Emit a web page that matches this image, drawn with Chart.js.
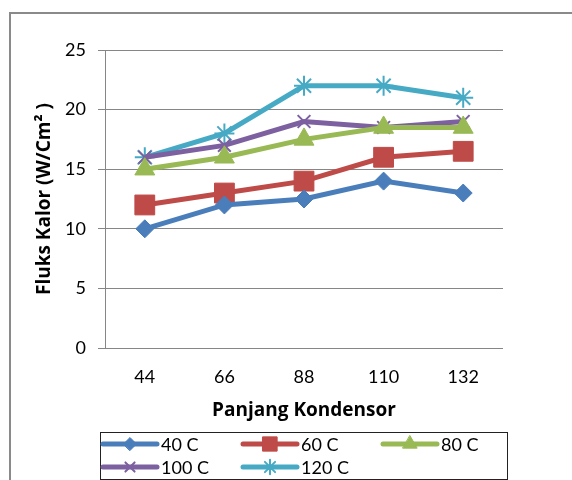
<!DOCTYPE html>
<html>
<head>
<meta charset="utf-8">
<script src="https://cdn.jsdelivr.net/npm/chart.js@4/dist/chart.umd.min.js"></script>
<style>
  html, body { margin: 0; padding: 0; background: #fff; }
  #wrap { width: 572px; height: 480px; }
</style>
</head>
<body>
<div id="wrap"><canvas id="c" width="572" height="480"></canvas></div>
<script>
// Panjang kondensor (x categories)
const categories = ['44', '66', '88', '110', '132'];

// Fluks kalor (W/Cm²) per temperature
const series40  = [10, 12, 12.5, 14, 13];
const series60  = [12, 13, 14, 16, 16.5];
const series80  = [15, 16, 17.5, 18.5, 18.5];
const series100 = [16, 17, 19, 18.5, 19];
const series120 = [16, 18, 22, 22, 21];

const seriesNames = ['40 C', '60 C', '80 C', '100 C', '120 C'];
const yTicks = [0, 5, 10, 15, 20, 25];

const FONT = 'Lato, "Open Sans", "Liberation Sans", sans-serif';
const TITLE_FONT = '"Open Sans", Lato, "Liberation Sans", sans-serif';
const GRID = '#868686';

const styles = [
  { color: '#4a7ebb', pointStyle: 'rectRot',  radius: 9,    bw: 1 },
  { color: '#be4b48', pointStyle: 'rect',     radius: 14,   bw: 1 },
  { color: '#98b954', pointStyle: 'triangle', radius: 11.5, bw: 1 },
  { color: '#7d60a0', pointStyle: 'crossRot', radius: 9,    bw: 2 },
  { color: '#46aac5', pointStyle: 'star',     radius: 10,   bw: 2 }
];
const values = [series40, series60, series80, series100, series120];

const datasets = values.map((v, i) => ({
  label: seriesNames[i],
  data: v,
  borderColor: styles[i].color,
  backgroundColor: styles[i].color,
  borderWidth: 5,
  pointStyle: styles[i].pointStyle,
  pointRadius: styles[i].radius,
  pointHoverRadius: styles[i].radius,
  pointBorderWidth: styles[i].bw,
  pointBackgroundColor: styles[i].color,
  pointBorderColor: styles[i].color,
  tension: 0,
  clip: false
}));

// Outer frame of the chart object
const framePlugin = {
  id: 'frame',
  beforeDraw(chart) {
    const ctx = chart.ctx;
    ctx.save();
    ctx.strokeStyle = '#8a8a8a';
    ctx.lineWidth = 2;
    ctx.beginPath();
    ctx.moveTo(10, chart.height + 2);
    ctx.lineTo(10, 13);
    ctx.lineTo(chart.width + 2, 13);
    ctx.stroke();
    ctx.restore();
  }
};

// Boxed legend laid out in three fixed columns
const boxLegendPlugin = {
  id: 'boxLegend',
  afterDraw(chart) {
    const ctx = chart.ctx;
    const box = { left: 100, top: 432, right: 507, bottom: 479 };
    ctx.save();
    ctx.strokeStyle = '#222';
    ctx.lineWidth = 1;
    ctx.strokeRect(box.left + 0.5, box.top + 0.5, box.right - box.left, box.bottom - box.top);
    const rows = [444, 467];
    chart.data.datasets.forEach((ds, i) => {
      const col = i % 3, row = Math.floor(i / 3);
      const x0 = 103 + col * 140, y = rows[row];
      ctx.strokeStyle = ds.borderColor;
      ctx.lineWidth = 5;
      ctx.lineCap = 'round';
      ctx.beginPath();
      ctx.moveTo(x0, y);
      ctx.lineTo(x0 + 54, y);
      ctx.stroke();
      ctx.fillStyle = ds.pointBackgroundColor;
      ctx.strokeStyle = ds.pointBorderColor;
      ctx.lineWidth = ds.pointBorderWidth;
      Chart.helpers.drawPoint(ctx, {
        pointStyle: ds.pointStyle,
        radius: ds.pointRadius * 0.72,
        rotation: 0,
        borderWidth: ds.pointBorderWidth
      }, x0 + 27, y);
      ctx.fillStyle = '#000';
      ctx.font = '18px ' + FONT;
      ctx.textBaseline = 'middle';
      ctx.textAlign = 'left';
      ctx.fillText(ds.label, x0 + 58, y + 1);
    });
    ctx.restore();
  }
};

new Chart(document.getElementById('c'), {
  type: 'line',
  data: { labels: categories, datasets },
  plugins: [framePlugin, boxLegendPlugin],
  options: {
    responsive: false,
    animation: false,
    events: [],
    layout: { padding: { left: 33, top: 50, right: 69, bottom: 55 } },
    plugins: {
      legend: { display: false },
      tooltip: { enabled: false }
    },
    scales: {
      x: {
        offset: true,
        grid: { display: false, drawTicks: false },
        border: { display: false },
        ticks: { color: '#000', font: { family: FONT, size: 18 }, padding: 18 },
        title: {
          display: true,
          text: 'Panjang Kondensor',
          color: '#000',
          font: { family: TITLE_FONT, size: 19, weight: 'bold' },
          padding: { top: 0, bottom: 3 }
        },
        afterFit(scale) { scale.height = 77; }
      },
      y: {
        min: yTicks[0],
        max: yTicks[yTicks.length - 1],
        afterBuildTicks(scale) { scale.ticks = yTicks.map(v => ({ value: v })); },
        grid: { color: GRID, lineWidth: 1, tickLength: 7, drawTicks: true },
        border: { display: true, color: GRID, width: 1 },
        ticks: { color: '#000', font: { family: FONT, size: 18 }, padding: 12 },
        title: {
          display: true,
          text: 'Fluks Kalor (W/Cm² )',
          color: '#000',
          font: { family: TITLE_FONT, size: 19, weight: 'bold' },
          padding: { top: 0, bottom: 0 }
        },
        afterFit(scale) { scale.width = 72; }
      }
    }
  }
});
</script>
</body>
</html>
